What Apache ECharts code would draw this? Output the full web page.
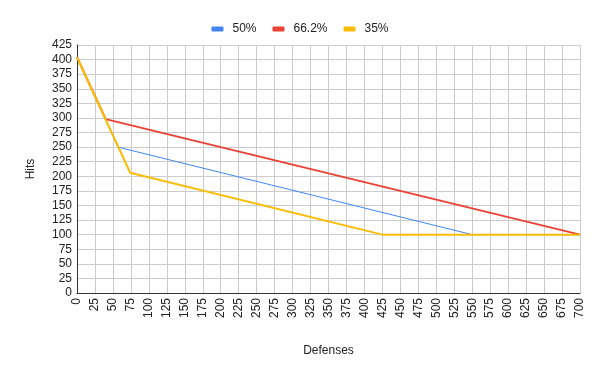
<!DOCTYPE html>
<html><head><meta charset="utf-8">
<script src="https://cdn.jsdelivr.net/npm/echarts@6/dist/echarts.min.js"></script>
<style>html,body{margin:0;padding:0;background:#fff}#c{width:600px;height:371px}</style>
</head><body><div id="c"></div>
<script>
const seriesNames = ['50%', '66.2%', '35%'];
const s50 = [[0, 404], [57, 250], [550, 100], [700, 100]];
const s662 = [[0, 404], [40, 298], [700, 100]];
const s35 = [[0, 404], [74, 206], [425, 100], [700, 100]];
const colors = ['#4285F4', '#EA4335', '#FBBC04'];
const widths = [1, 2, 2];
const xName = 'Defenses', yName = 'Hits';
const FONT = '"Liberation Sans", Arial, sans-serif';

const chart = echarts.init(document.getElementById('c'));
const data = [s50, s662, s35];
chart.setOption({
  animation: false,
  color: colors,
  legend: {
    top: 18, left: 'center', itemWidth: 12, itemHeight: 5, itemGap: 16,
    icon: 'roundRect',
    textStyle: { fontFamily: FONT, fontSize: 12, color: '#222', padding: [0, 0, 0, 4] },
    data: seriesNames
  },
  grid: { left: 77, right: 20, top: 45, bottom: 78, containLabel: false },
  xAxis: {
    type: 'value', min: 0, max: 700, interval: 25,
    name: xName, nameLocation: 'middle', nameGap: 52,
    nameTextStyle: { fontFamily: FONT, fontSize: 12, color: '#222' },
    axisLine: { show: true, lineStyle: { color: '#333', width: 1 } },
    axisTick: { show: false },
    axisLabel: { rotate: 90, fontFamily: FONT, fontSize: 12, color: '#222', margin: 5 },
    splitLine: { show: true, lineStyle: { color: '#ccc', width: 1 } }
  },
  yAxis: {
    type: 'value', min: 0, max: 425, interval: 25,
    name: yName, nameLocation: 'middle', nameGap: 40,
    nameTextStyle: { fontFamily: FONT, fontSize: 12, color: '#222' },
    axisLine: { show: true, lineStyle: { color: '#333', width: 1 } },
    axisTick: { show: false },
    axisLabel: { fontFamily: FONT, fontSize: 12, color: '#222', margin: 5 },
    splitLine: { show: true, lineStyle: { color: '#ccc', width: 1 } }
  },
  series: seriesNames.map((n, i) => ({
    name: n, type: 'line', data: data[i], showSymbol: false, symbol: 'none',
    lineStyle: { width: widths[i], color: colors[i] }
  }))
});
</script></body></html>
